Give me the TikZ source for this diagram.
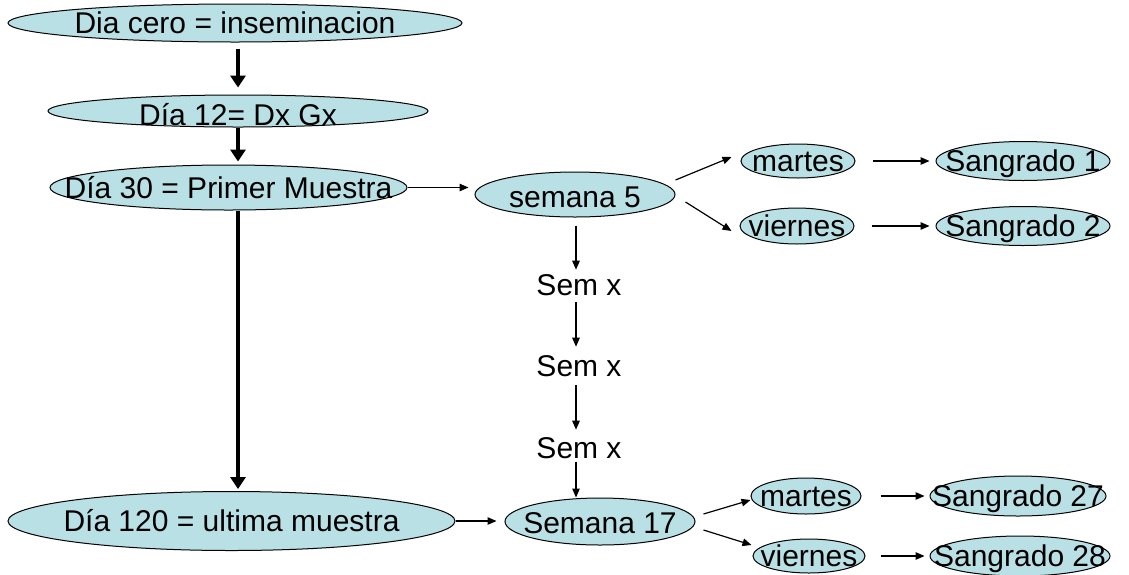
\documentclass[tikz,border=0pt]{standalone}
\usepackage{fontspec}
\setmainfont{Liberation Sans}
\usetikzlibrary{arrows.meta,shapes.geometric}
\definecolor{ovalfill}{RGB}{185,224,228}
% text set on the oval's centre without widening the oval; optional argument lowers it
\newcommand\ovaltext[2][0pt]{\raisebox{\dimexpr-0.36em-#1\relax}[0pt][0pt]{\makebox[0pt]{#2}}}

\begin{document}
\begin{tikzpicture}[x=1pt,y=-1pt,
  every node/.style={font=\fontsize{30}{33}\selectfont},
  oval/.style 2 args={ellipse, draw=black, line width=1pt, fill=ovalfill,
    inner sep=0pt, minimum width=#1, minimum height=#2},
  label text/.style={inner sep=0pt},
  bold arrow/.style={line width=4pt, -{Triangle[length=12pt,width=15pt]}},
  thin arrow/.style={line width=1.2pt, -{Triangle[length=9pt,width=7.5pt]}}]

\fill[white] (0,0) rectangle (1129,574);
\useasboundingbox (0,0) rectangle (1129,574);

% main time line
\node[oval={454pt}{38pt}] (d0)   at (235,23)    {\ovaltext{Dia cero = inseminacion}};
\node[oval={380pt}{32pt}] (d12)  at (238,111)   {\ovaltext[4pt]{Día 12= Dx Gx}};
\node[oval={357pt}{45pt}] (d30)  at (228.5,187.5) {\ovaltext{Día 30 = Primer Muestra}};
\node[oval={447pt}{59pt}] (d120) at (231.5,521) {\ovaltext{Día 120 = ultima muestra}};

% weeks
\node[oval={200pt}{45pt}] (sem5)  at (575,194.5) {\ovaltext[2pt]{semana 5}};
\node[label text] (sx1) at (579,285) {Sem x};
\node[label text] (sx2) at (579,366) {Sem x};
\node[label text] (sx3) at (579,448) {Sem x};
\node[oval={190pt}{47pt}] (sem17) at (600,521.5) {\ovaltext[1.5pt]{Semana 17}};

% sampling days and bleedings
\node[oval={114pt}{34pt}] (m1)  at (798,161)  {\ovaltext{martes}};
\node[oval={114pt}{36pt}] (v1)  at (797,226)  {\ovaltext{viernes}};
\node[oval={174pt}{39pt}] (s1)  at (1023,161) {\ovaltext{Sangrado 1}};
\node[oval={174pt}{39pt}] (s2)  at (1023,226) {\ovaltext{Sangrado 2}};
\node[oval={110pt}{36pt}] (m2)  at (806,496)  {\ovaltext{martes}};
\node[oval={112pt}{34pt}] (v2)  at (809,556)  {\ovaltext{viernes}};
\node[oval={176pt}{40pt}] (s27) at (1018,496) {\ovaltext{Sangrado 27}};
\node[oval={180pt}{40pt}] (s28) at (1020,556) {\ovaltext{Sangrado 28}};

% bold arrows down the time line
\draw[bold arrow] ([xshift=3pt,yshift=-6pt]d0.south) -- ([yshift=7pt]d12.north);
\draw[bold arrow] (d12.south) -- ([xshift=9.5pt,yshift=3pt]d30.north);
\draw[bold arrow] ([xshift=9.5pt]d30.south) -- ([xshift=6.5pt,yshift=2pt]d120.north);

% time line to weeks
\draw[thin arrow, shorten >=6pt] (d30.east) -- (d30.east -| sem5.west);
\draw[thin arrow, shorten >=8pt] (d120.east) -- (d120.east -| sem17.west);

% week chain
\draw[thin arrow] ([xshift=1pt,yshift=-8pt]sem5.south) -- ([xshift=-3pt,yshift=4.5pt]sx1.north);
\draw[thin arrow] ([xshift=-3pt,yshift=-6.5pt]sx1.south) -- ([xshift=-3pt,yshift=8.5pt]sx2.north);
\draw[thin arrow] ([xshift=-3pt,yshift=-8.5pt]sx2.south) -- ([xshift=-3pt,yshift=7.5pt]sx3.north);
\draw[thin arrow] ([xshift=-3pt,yshift=-3pt]sx3.south) -- ([xshift=-24pt]sem17.north);

% week 5 branches
\draw[thin arrow] ([yshift=14.5pt]sem5.east) -- ([xshift=-9pt,yshift=4pt]m1.west);
\draw[thin arrow] ([xshift=10pt,yshift=-7.5pt]sem5.east) -- ([xshift=-8pt,yshift=-5pt]v1.west);
\draw[thin arrow, shorten <=17pt, shorten >=6pt] (m1.east) -- (s1.west);
\draw[thin arrow, shorten <=17pt, shorten >=6pt] (v1.east) -- (s2.west);

% week 17 branches
\draw[thin arrow] ([xshift=8pt,yshift=7.5pt]sem17.east) -- ([yshift=-4pt]m2.west);
\draw[thin arrow] ([xshift=8pt,yshift=-8.5pt]sem17.east) -- ([xshift=-1pt,yshift=11pt]v2.west);
\draw[thin arrow, shorten <=19pt, shorten >=5pt] (m2.east) -- (s27.west);
\draw[thin arrow, shorten <=15pt, shorten >=5pt] (v2.east) -- (s28.west);
\end{tikzpicture}
\end{document}
